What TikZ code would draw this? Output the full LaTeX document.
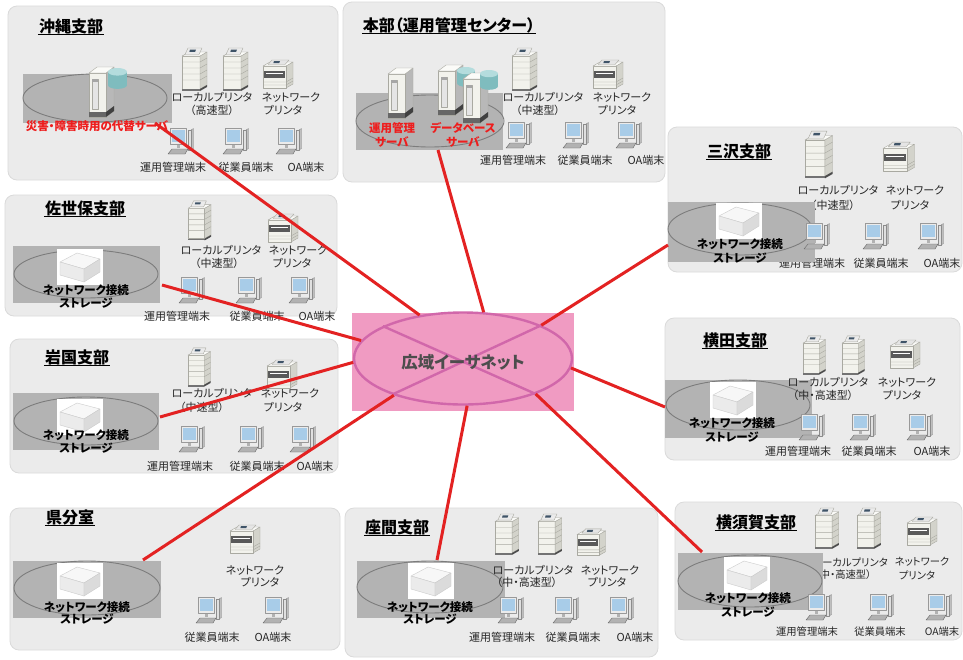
\documentclass[tikz,border=0pt]{standalone}
\usepackage{fontspec}
\usetikzlibrary{shapes.geometric}
\newfontfamily\jp[RawFeature=+palt]{Noto Sans CJK JP}

\definecolor{sitebg}{HTML}{EBEBEB}
\definecolor{siteline}{HTML}{DADADA}
\definecolor{lanbg}{HTML}{B3B3B3}
\definecolor{lanring}{HTML}{7C7C7C}
\definecolor{wire}{HTML}{E32222}
\definecolor{wanfill}{HTML}{F09BC2}
\definecolor{wanline}{HTML}{D167AA}
\definecolor{wantext}{HTML}{4D4D4D}
\definecolor{alert}{HTML}{EE1D1D}
\definecolor{devlight}{HTML}{F2F2EC}
\definecolor{devtop}{HTML}{FBFBF8}
\definecolor{devside}{HTML}{D3D3CB}
\definecolor{devedge}{HTML}{A9A9A1}
\definecolor{devpanel}{HTML}{3F5468}
\definecolor{screen}{HTML}{A8CCE8}
\definecolor{cylbody}{HTML}{7FBCBE}
\definecolor{cyltop}{HTML}{B4DCDD}

% text helpers
\newcommand\lb[4]{\node[lbl] (#1) at (#2,#3) {#4};}
\newcommand\nl[4]{\node[naslbl] (#1) at (#2,#3) {#4};}
\newcommand\sitetitle[4]{\node[ttl] (#1) at (#2,#3) {#4};
  \draw[uline] (#1.south west) -- (#1.south east);}
% grey LAN zone: rectangle corners, ring centre and radii
\newcommand\lanzone[8]{%
  \fill[lanbg] (#1,#2) rectangle (#3,#4);
  \draw[lanring] (#5,#6) ellipse [x radius=#7, y radius=#8];}

\tikzset{
  site/.style={draw=siteline, fill=sitebg, rounded corners=9pt, line width=0.8pt},
  ttl/.style={font=\jp\bfseries\fontsize{16}{18}\selectfont, inner sep=1pt, text=black},
  uline/.style={line width=1.1pt},
  lbl/.style={font=\jp\fontsize{11}{13}\selectfont, inner sep=0pt, text=black!85},
  redlbl/.style={font=\jp\bfseries\fontsize{11.5}{14}\selectfont, inner sep=0pt, text=alert, align=center},
  naslbl/.style={font=\jp\bfseries\fontsize{11.5}{13}\selectfont, inner sep=0pt, text=black},
  lanring/.style={draw=lanring, line width=0.9pt},
  link/.style={draw=wire, line width=3pt},
  % tower printer, origin top-left, about 25 x 44
  pics/lprn/.style={code={
    \begin{scope}[draw=devedge, line width=0.4pt, line join=round]
    \filldraw[fill=devlight] (0,9) rectangle (18,42);
    \filldraw[fill=devside] (18,9) -- (25,5) -- (25,38) -- (18,42) -- cycle;
    \filldraw[fill=devtop] (0,9) -- (7,5) -- (25,5) -- (18,9) -- cycle;
    \foreach \yy in {15,21,27,33} {\draw (0,\yy) -- (18,\yy) -- (25,\yy-4);}
    \filldraw[fill=black!8] (3,7.5) -- (6,1) -- (20,1) -- (17,7.5) -- cycle;
    \fill[devpanel] (8,2.5) -- (14,2.5) -- (13.2,4.8) -- (7.4,4.8) -- cycle;
    \fill[black!55] (0,42) rectangle (18,44);
    \fill[black!70] (18,42) -- (25,38) -- (25,40) -- (18,44) -- cycle;
    \end{scope}}},
  % multifunction network printer, origin top-left, about 30 x 30
  pics/nprn/.style={code={
    \begin{scope}[draw=devedge, line width=0.4pt, line join=round]
    \filldraw[fill=devside] (23,8) -- (30,4) -- (30,26) -- (23,30) -- cycle;
    \filldraw[fill=devlight] (0,8) rectangle (23,30);
    \filldraw[fill=devtop] (0,8) -- (7,4) -- (30,4) -- (23,8) -- cycle;
    \filldraw[fill=black!10] (5,6.5) -- (9,2) -- (26,2) -- (22,6.5) -- cycle;
    \fill[devpanel] (11,3) -- (17,3) -- (16.3,5) -- (10.4,5) -- cycle;
    \fill[black!65] (1,13) rectangle (22,20);
    \draw[white, line width=0.8pt] (3,15.5) -- (20,15.5);
    \draw (0,24) -- (23,24) -- (30,20);
    \draw (0,27) -- (23,27) -- (30,23);
    \end{scope}}},
  % desktop terminal, origin top-centre, about 26 x 26
  pics/pcunit/.style={code={
    \begin{scope}[line width=0.4pt, line join=round]
    \filldraw[fill=black!25, draw=black!45] (9,2) -- (11.5,0.5) -- (11.5,20.5) -- (9,22) -- cycle;
    \filldraw[fill=black!12, draw=black!45] (6,2) rectangle (9,22);
    \fill[black!30] (-5,16) rectangle (-2,20);
    \filldraw[fill=black!8, draw=black!40] (-12,0) rectangle (4,16);
    \fill[screen] (-10.5,1.5) rectangle (2.5,13.5);
    \filldraw[fill=black!30, draw=black!60] (-14,26) -- (-10,21) -- (6,21) -- (3,26) -- cycle;
    \end{scope}}},
  % network attached storage, origin top-left, 46 x 36
  pics/nasbox/.style={code={
    \fill[white] (0,0) rectangle (46,36);
    \begin{scope}[draw=black!20, line width=0.4pt, line join=round]
    \filldraw[fill=black!3] (3,13) -- (20,4) -- (43,10) -- (27,20) -- cycle;
    \filldraw[fill=black!8] (3,13) -- (27,20) -- (27,33) -- (3,26) -- cycle;
    \filldraw[fill=black!14] (27,20) -- (43,10) -- (43,23) -- (27,33) -- cycle;
    \end{scope}}},
  % server tower, origin top-left, 25 x 50
  pics/srv/.style={code={
    \begin{scope}[draw=devedge, line width=0.4pt, line join=round]
    \filldraw[fill=black!28] (17,6) -- (25,0) -- (25,44) -- (17,50) -- cycle;
    \filldraw[fill=devlight] (0,6) rectangle (17,50);
    \filldraw[fill=devtop] (0,6) -- (8,0) -- (25,0) -- (17,6) -- cycle;
    \filldraw[fill=black!10] (3,12) rectangle (9,42);
    \fill[black!35] (3,12) rectangle (9,15);
    \fill[black!60] (0,45) rectangle (17,50);
    \fill[black!75] (17,45) -- (25,39) -- (25,44) -- (17,50) -- cycle;
    \end{scope}}},
  % database cylinder, origin top-left, 20 x 22
  pics/dbc/.style={code={
    \fill[cylbody] (0,4) rectangle (20,18);
    \fill[cylbody] (10,18) ellipse [x radius=10, y radius=4];
    \fill[cyltop] (10,4) ellipse [x radius=10, y radius=4];}},
}

\begin{document}
\begin{tikzpicture}[x=1pt, y=-1pt]
\useasboundingbox (0,0) rectangle (963,659);
\fill[white] (0,0) rectangle (963,659);

% ---------------- 沖縄支部
\draw[site] (8,6) rectangle (338,180);
\sitetitle{ok-title}{71}{26}{沖縄支部}
\lb{ok-lpl}{212}{97}{ローカルプリンタ}
\lb{ok-lps}{212}{110}{（高速型）}
\lb{ok-npl}{291}{97}{ネットワーク}
\lb{ok-nps}{283}{110}{プリンタ}
\lb{ok-t1}{173}{167}{運用管理端末}
\lb{ok-t2}{246}{167}{従業員端末}
\lb{ok-t3}{306}{167}{OA端末}
\lanzone{23}{74}{172}{123}{95}{98}{72}{24}
\pic (ok-srv) at (89,67) {srv};
\pic[scale=0.95] (ok-db) at (108,68) {dbc};
\node[redlbl] (ok-backup) at (97,126) {災害・障害時用の代替サーバ};
\pic (ok-lp1) at (182,47) {lprn};
\pic (ok-lp2) at (223,47) {lprn};
\pic (ok-np) at (263,58) {nprn};
\pic (ok-pc1) at (182,128) {pcunit};
\pic (ok-pc2) at (237,128) {pcunit};
\pic (ok-pc3) at (290,128) {pcunit};
\coordinate (ok-port) at (155,123);

% ---------------- 本部（運用管理センター）
\draw[site] (343,2) rectangle (665,182);
\sitetitle{hq-title}{449}{25}{本部（運用管理センター）}
\lb{hq-lpl}{543}{97}{ローカルプリンタ}
\lb{hq-lps}{538}{110}{（中速型）}
\lb{hq-npl}{622}{97}{ネットワーク}
\lb{hq-nps}{617}{110}{プリンタ}
\lb{hq-t1}{513}{160}{運用管理端末}
\lb{hq-t2}{585}{160}{従業員端末}
\lb{hq-t3}{646}{160}{OA端末}
\lanzone{356}{93}{503}{150}{430}{121}{74}{26}
\pic (hq-srv1) at (388,68) {srv};
\pic (hq-srv2) at (438,65) {srv};
\pic[scale=0.9] (hq-db2) at (457,67) {dbc};
\pic (hq-srv3) at (463,73) {srv};
\pic[scale=0.9] (hq-db3) at (480,70) {dbc};
\node[redlbl] (hq-mgmt) at (392,135) {運用管理\\サーバ};
\node[redlbl] (hq-dbs) at (463,135) {データベース\\サーバ};
\pic (hq-lp) at (512,47) {lprn};
\pic (hq-np) at (593,58) {nprn};
\pic (hq-pc1) at (520,122) {pcunit};
\pic (hq-pc2) at (577,122) {pcunit};
\pic (hq-pc3) at (630,122) {pcunit};
\coordinate (hq-port) at (438,150);

% ---------------- 三沢支部
\draw[site] (668,127) rectangle (962,272);
\sitetitle{ms-title}{739}{151}{三沢支部}
\lb{ms-lpl}{838}{190}{ローカルプリンタ}
\lb{ms-lps}{833}{205}{（中速型）}
\lb{ms-npl}{915}{190}{ネットワーク}
\lb{ms-nps}{910}{205}{プリンタ}
\lb{ms-t1}{812}{263}{運用管理端末}
\lb{ms-t2}{881}{263}{従業員端末}
\lb{ms-t3}{942}{263}{OA端末}
\lanzone{668}{202}{815}{262}{740}{229}{72}{26}
\pic (ms-nas) at (716,203) {nasbox};
\nl{ms-nas1}{740}{244}{ネットワーク接続}
\nl{ms-nas2}{740}{258}{ストレージ}
\pic[scale=1.1] (ms-lp) at (805,130) {lprn};
\pic[scale=1.05] (ms-np) at (883,140) {nprn};
\pic (ms-pc1) at (818,223) {pcunit};
\pic (ms-pc2) at (877,223) {pcunit};
\pic (ms-pc3) at (932,223) {pcunit};
\coordinate (ms-port) at (668,245);

% ---------------- 佐世保支部
\draw[site] (5,195) rectangle (337,316);
\sitetitle{sb-title}{85}{208}{佐世保支部}
\lb{sb-lpl}{221}{250}{ローカルプリンタ}
\lb{sb-lps}{217}{263}{（中速型）}
\lb{sb-npl}{298}{250}{ネットワーク}
\lb{sb-nps}{292}{263}{プリンタ}
\lb{sb-t1}{177}{316}{運用管理端末}
\lb{sb-t2}{257}{316}{従業員端末}
\lb{sb-t3}{317}{316}{OA端末}
\lanzone{13}{246}{160}{303}{86}{274}{72}{24}
\pic (sb-nas) at (57,249) {nasbox};
\nl{sb-nas1}{86}{290}{ネットワーク接続}
\nl{sb-nas2}{86}{303}{ストレージ}
\pic[scale=0.92] (sb-lp) at (188,200) {lprn};
\pic (sb-np) at (268,212) {nprn};
\pic (sb-pc1) at (193,277) {pcunit};
\pic (sb-pc2) at (250,277) {pcunit};
\pic (sb-pc3) at (303,277) {pcunit};
\coordinate (sb-port) at (162,285);

% ---------------- 岩国支部
\draw[site] (10,339) rectangle (338,473);
\sitetitle{iw-title}{77}{357}{岩国支部}
\lb{iw-lpl}{212}{393}{ローカルプリンタ}
\lb{iw-lps}{202}{407}{（中速型）}
\lb{iw-npl}{290}{393}{ネットワーク}
\lb{iw-nps}{283}{407}{プリンタ}
\lb{iw-t1}{180}{466}{運用管理端末}
\lb{iw-t2}{257}{466}{従業員端末}
\lb{iw-t3}{315}{466}{OA端末}
\lanzone{13}{393}{159}{450}{86}{421}{72}{24}
\pic (iw-nas) at (57,399) {nasbox};
\nl{iw-nas1}{86}{435}{ネットワーク接続}
\nl{iw-nas2}{86}{448}{ストレージ}
\pic[scale=0.9] (iw-lp) at (188,347) {lprn};
\pic (iw-np) at (267,358) {nprn};
\pic (iw-pc1) at (193,426) {pcunit};
\pic (iw-pc2) at (252,426) {pcunit};
\pic (iw-pc3) at (304,426) {pcunit};
\coordinate (iw-port) at (160,417);

% ---------------- 横田支部 (printer captions sit above the grey zone)
\draw[site] (665,318) rectangle (960,460);
\sitetitle{yt-title}{735}{340}{横田支部}
\lanzone{665}{380}{812}{438}{738}{405}{72}{25}
\lb{yt-lpl}{828}{382}{ローカルプリンタ}
\lb{yt-lps}{823}{395}{（中・高速型）}
\lb{yt-npl}{907}{382}{ネットワーク}
\lb{yt-nps}{902}{395}{プリンタ}
\lb{yt-t1}{798}{451}{運用管理端末}
\lb{yt-t2}{869}{451}{従業員端末}
\lb{yt-t3}{932}{451}{OA端末}
\pic (yt-nas) at (710,382) {nasbox};
\nl{yt-nas1}{732}{423}{ネットワーク接続}
\nl{yt-nas2}{732}{437}{ストレージ}
\pic[scale=0.9] (yt-lp1) at (803,335) {lprn};
\pic[scale=0.9] (yt-lp2) at (842,335) {lprn};
\pic (yt-np) at (890,338) {nprn};
\pic (yt-pc1) at (813,414) {pcunit};
\pic (yt-pc2) at (864,414) {pcunit};
\pic (yt-pc3) at (921,414) {pcunit};
\coordinate (yt-port) at (665,407);

% ---------------- 県分室
\draw[site] (10,508) rectangle (340,650);
\sitetitle{kb-title}{70}{517}{県分室}
\lb{kb-npl}{255}{570}{ネットワーク}
\lb{kb-nps}{260}{582}{プリンタ}
\lb{kb-t2}{212}{637}{従業員端末}
\lb{kb-t3}{273}{637}{OA端末}
\lanzone{13}{561}{161}{618}{87}{588}{73}{27}
\pic (kb-nas) at (57,563) {nasbox};
\nl{kb-nas1}{87}{607}{ネットワーク接続}
\nl{kb-nas2}{87}{619}{ストレージ}
\pic (kb-np) at (230,523) {nprn};
\pic (kb-pc1) at (210,597) {pcunit};
\pic (kb-pc2) at (277,597) {pcunit};
\coordinate (kb-port) at (143,560);

% ---------------- 座間支部 (printer captions sit above the grey zone)
\draw[site] (345,508) rectangle (658,657);
\sitetitle{zm-title}{397}{527}{座間支部}
\lanzone{357}{561}{505}{618}{430}{587}{73}{26}
\lb{zm-lpl}{533}{570}{ローカルプリンタ}
\lb{zm-lps}{527}{582}{（中・高速型）}
\lb{zm-npl}{610}{570}{ネットワーク}
\lb{zm-nps}{607}{582}{プリンタ}
\lb{zm-t1}{502}{637}{運用管理端末}
\lb{zm-t2}{573}{637}{従業員端末}
\lb{zm-t3}{635}{637}{OA端末}
\pic (zm-nas) at (408,563) {nasbox};
\nl{zm-nas1}{430}{607}{ネットワーク接続}
\nl{zm-nas2}{430}{619}{ストレージ}
\pic[scale=0.95] (zm-lp1) at (495,513) {lprn};
\pic[scale=0.95] (zm-lp2) at (538,513) {lprn};
\pic[scale=0.95] (zm-np) at (577,527) {nprn};
\pic (zm-pc1) at (512,597) {pcunit};
\pic (zm-pc2) at (567,597) {pcunit};
\pic (zm-pc3) at (622,597) {pcunit};
\coordinate (zm-port) at (437,560);

% ---------------- 横須賀支部 (slightly smaller captions)
\begin{scope}[lbl/.append style={font=\jp\fontsize{10.3}{12}\selectfont}]
\draw[site] (675,502) rectangle (962,640);
\sitetitle{ys-title}{756}{522}{横須賀支部}
\lb{ys-lpl}{850}{562}{ローカルプリンタ}
\lb{ys-lps}{843}{575}{（中・高速型）}
\lb{ys-npl}{922}{562}{ネットワーク}
\lb{ys-nps}{917}{575}{プリンタ}
\lb{ys-t1}{807}{632}{運用管理端末}
\lb{ys-t2}{880}{632}{従業員端末}
\lb{ys-t3}{942}{632}{OA端末}
\lanzone{678}{553}{823}{610}{750}{581}{72}{26}
\pic (ys-nas) at (724,557) {nasbox};
\nl{ys-nas1}{748}{598}{ネットワーク接続}
\nl{ys-nas2}{748}{612}{ストレージ}
\pic[scale=0.95] (ys-lp1) at (815,507) {lprn};
\pic[scale=0.95] (ys-lp2) at (857,507) {lprn};
\pic (ys-np) at (907,515) {nprn};
\pic (ys-pc1) at (820,594) {pcunit};
\pic (ys-pc2) at (882,594) {pcunit};
\pic (ys-pc3) at (940,594) {pcunit};
\coordinate (ys-port) at (702,552);
\end{scope}

% ---------------- wide-area Ethernet hub
\node[fill=wanfill, minimum width=222pt, minimum height=98pt, inner sep=0pt] (wanbg) at (463,362) {};
\node[ellipse, draw=wanline, line width=2.4pt, minimum width=218pt, minimum height=92pt, inner sep=0pt] (wan) at (463,358.5) {};
\draw[wanline, line width=2.4pt] (wan.158.6) -- (wan.334.3);
\draw[wanline, line width=2.4pt] (wan.207) -- (wan.23.7);
\node[font=\jp\bfseries\fontsize{16.5}{18}\selectfont, text=wantext, inner sep=0pt] (wantxt) at (463,362) {広域イーサネット};

% ---------------- links from the hub to every site
\draw[link] (ok-port) -- (wan.135);
\draw[link] (hq-port) -- (wan.66.7);
\draw[link] (ms-port) -- (wan.23);
\draw[link] (sb-port) -- (wan.170);
\draw[link] (iw-port) -- (wan.182);
\draw[link] (kb-port) -- (wan.208);
\draw[link] (zm-port) -- (wan.275.5);
\draw[link] (ys-port) -- (wan.334);
\draw[link] (yt-port) -- (wan.355.6);
\end{tikzpicture}
\end{document}
